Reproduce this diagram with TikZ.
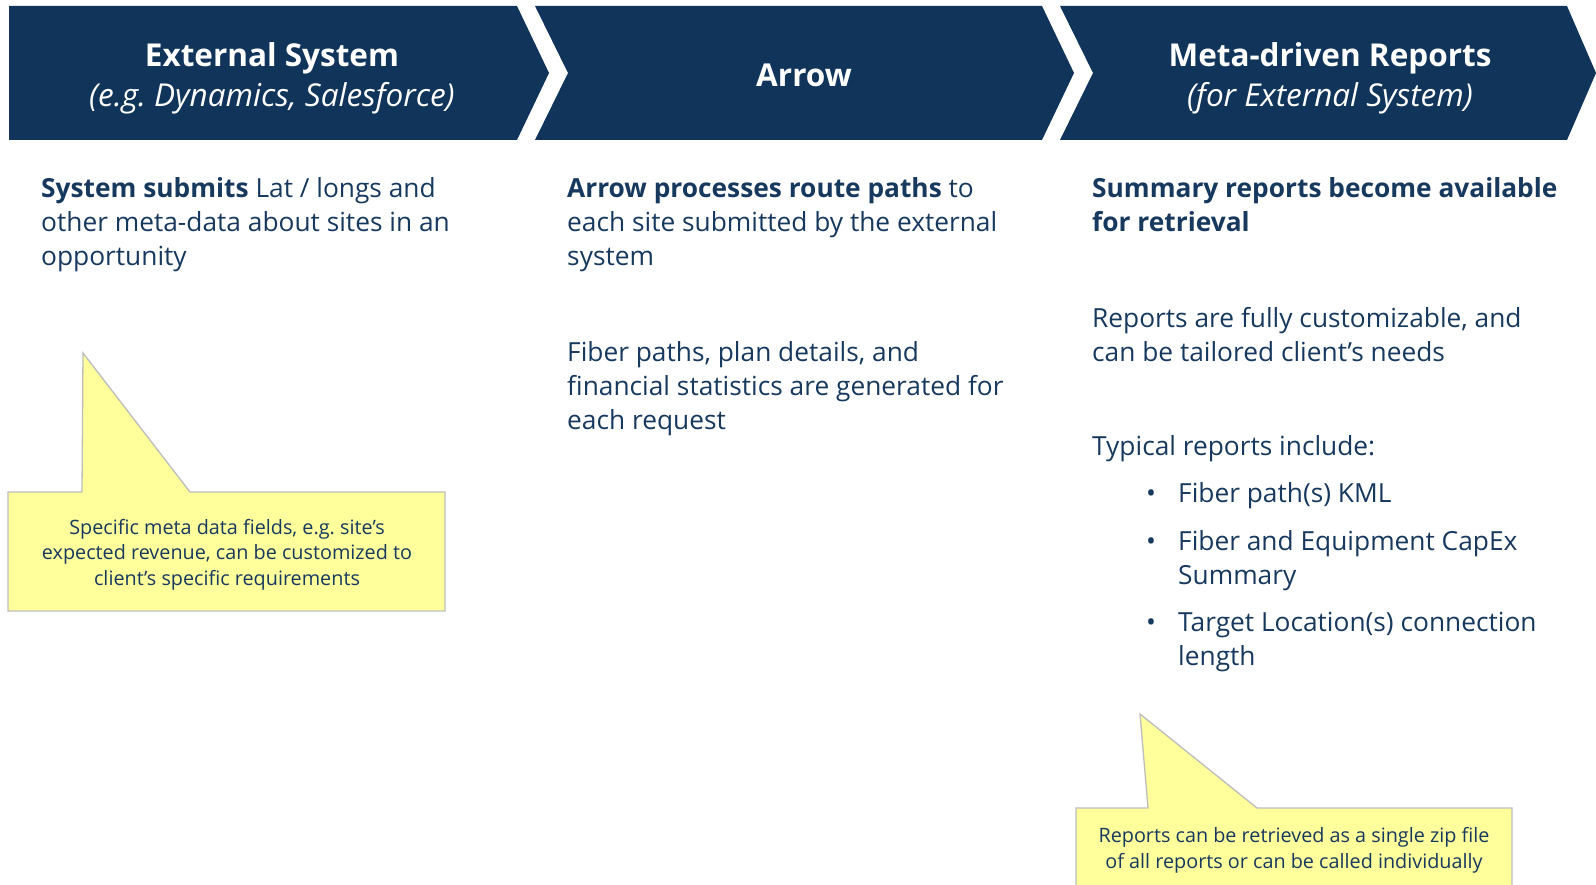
\documentclass[tikz,border=0pt]{standalone}
\usepackage{fontspec}
\setmainfont{Open Sans}
\usetikzlibrary{positioning}
\definecolor{navy}{HTML}{10345A}
\definecolor{ink}{HTML}{17395E}
\definecolor{noteyellow}{HTML}{FFFF9C}
\definecolor{noteedge}{HTML}{BDBDBD}
\newcommand{\bodysz}{\fontsize{26.3}{34}\selectfont}
\newcommand{\notesz}{\fontsize{19.8}{25.5}\selectfont}
\frenchspacing

\begin{document}
\begin{tikzpicture}[
  x=1pt, y=-1pt,
  font=\bodysz\color{ink},
  band/.style={fill=navy},
  head/.style={font=\fontsize{31.5}{40}\selectfont\bfseries\color{white},
               align=center, anchor=base, inner sep=0pt},
  body/.style={align=left, anchor=base west, inner sep=0pt},
  note/.style={fill=noteyellow, draw=noteedge, line width=1.3pt},
  notetext/.style={font=\notesz\color{ink}, align=center, anchor=base, inner sep=0pt},
]
\useasboundingbox (0,0) rectangle (1596,885);
\clip (0,0) rectangle (1596,885);

% ---- Chevron band -----------------------------------------------------------
\fill[band] (9,6) -- (517,6) -- (549,73) -- (517,140) -- (9,140) -- cycle;
\fill[band] (535,6) -- (1042,6) -- (1074,73) -- (1042,140) -- (535,140)
  -- (568,73) -- cycle;
\fill[band] (1060,6) -- (1567,6) -- (1596,73) -- (1567,140) -- (1060,140)
  -- (1093,73) -- cycle;

% base anchor of a multi-line node = baseline of its last line
\node[head] (hdrext) at (272,107)
  {External System\\{\normalfont\itshape (e.g. Dynamics, Salesforce)}};
\node[head] (hdrarrow) at (804,87) {Arrow};
\node[head] (hdrmeta) at (1330,107)
  {Meta-driven Reports\\{\normalfont\itshape (for External System)}};

% ---- Column 1: external system ----------------------------------------------
\node[body] (submit) at (41,266)
  {\textbf{System submits} Lat / longs and\\
   other meta-data about sites in an\\
   opportunity};

% ---- Column 2: Arrow --------------------------------------------------------
\node[body] (process) at (567,266)
  {\textbf{Arrow processes route paths} to\\
   each site submitted by the external\\
   system};
\node[body] (generate) at (567,429)
  {Fiber paths, plan details, and\\
   financial statistics are generated for\\
   each request};

% ---- Column 3: reports ------------------------------------------------------
\node[body, font=\bodysz\bfseries\color{ink}] (summary) at (1092,232)
  {Summary reports become available\\
   for retrieval};
\node[body] (custom) at (1092,361)
  {Reports are fully customizable, and\\
   can be tailored client’s needs};
\node[body] (typical) at (1092,455) {Typical reports include:};
\foreach \y/\z/\t [count=\i] in {502/502/{Fiber path(s) KML},
    550/584/{Fiber and Equipment CapEx\\Summary},
    631/665/{Target Location(s) connection\\length}} {
  \node[body] (dot\i) at (1146,\y) {\textbullet};
  \node[body] (item\i) at (1178,\z) {\t};
}

% ---- Callouts ---------------------------------------------------------------
\draw[note] (8,492) -- (82,492) -- (83,353) -- (190,492) -- (445,492)
  -- (445,611) -- (8,611) -- cycle;
\node[notetext] (metanote) at (227,585)
  {Specific meta data fields, e.g. site’s\\
   expected revenue, can be customized to\\
   client’s specific requirements};

\draw[note] (1076,808) -- (1148,808) -- (1140,714) -- (1257,808)
  -- (1512,808) -- (1512,900) -- (1076,900) -- cycle;
\node[notetext] (zipnote) at (1294,868)
  {Reports can be retrieved as a single zip file\\
   of all reports or can be called individually};

\end{tikzpicture}
\end{document}
